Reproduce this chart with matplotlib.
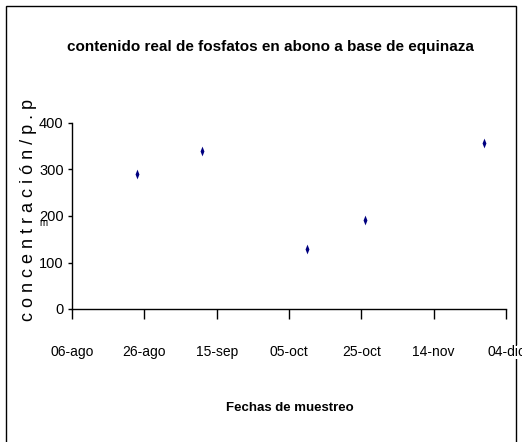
import matplotlib
matplotlib.use("Agg")
import matplotlib.pyplot as plt
from matplotlib.patches import Rectangle
import datetime as dt

plt.rcParams['font.family'] = ['Liberation Sans', 'DejaVu Sans']

title = "contenido real de fosfatos en abono a base de equinaza"
xlabel = "Fechas de muestreo"
ylabel = "c o n c e n t r a c i ó n / p . p"
sample_dates = ["2008-08-24", "2008-09-11", "2008-10-10", "2008-10-26", "2008-11-28"]
values = [290, 339, 129, 191, 357]
tick_dates = ["2008-08-06", "2008-08-26", "2008-09-15", "2008-10-05",
              "2008-10-25", "2008-11-14", "2008-12-04"]
tick_labels = ["06-ago", "26-ago", "15-sep", "05-oct", "25-oct", "14-nov", "04-dic"]
y_ticks = [0, 100, 200, 300, 400]

to_date = lambda s: dt.datetime.strptime(s, "%Y-%m-%d")
xd = [to_date(s) for s in sample_dates]
td = [to_date(s) for s in tick_dates]

fig = plt.figure(figsize=(5.22, 4.42), dpi=100)
ax = fig.add_axes([72/522, 1-309/442, (506-72)/522, (309-123)/442])

diamond = [(0, 1), (0.4, 0), (0, -1), (-0.4, 0), (0, 1)]
ax.plot(xd, values, linestyle='none', marker=diamond, markersize=7,
        color='#000080', markeredgewidth=0)

ax.set_xlim(td[0], td[-1])
ax.set_ylim(0, 400)
ax.set_xticks(td)
ax.set_xticklabels(tick_labels, fontsize=10)
ax.set_yticks(y_ticks)
ax.set_yticklabels([str(v) for v in y_ticks], fontsize=10.5)
ax.tick_params(axis='x', direction='out', length=7, width=1, pad=19)
ax.tick_params(axis='y', direction='out', length=3, width=1, pad=3)
ax.spines['top'].set_visible(False)
ax.spines['right'].set_visible(False)
for s in ['left', 'bottom']:
    ax.spines[s].set_linewidth(1)
for lab in ax.get_xticklabels():
    lab.set_bbox(dict(facecolor='white', edgecolor='none', pad=0))

fig.text(270/522, 1-47/442, title, ha='center', va='center',
         fontsize=11, fontweight='bold')
fig.text(290/522, 1-408/442, xlabel, ha='center', va='center',
         fontsize=9.5, fontweight='bold')
fig.text(29/522, 1-210/442, ylabel, ha='center', va='center',
         rotation=90, fontsize=13)
fig.text(43/522, 1-223/442, "m", ha='center', va='center', fontsize=7)

fig.patches.append(Rectangle((6/522, -0.05), (516-6)/522, 1-6/442+0.05,
                             transform=fig.transFigure, fill=False,
                             edgecolor='black', linewidth=1, zorder=-1))

fig.savefig("out.png", dpi=100)
